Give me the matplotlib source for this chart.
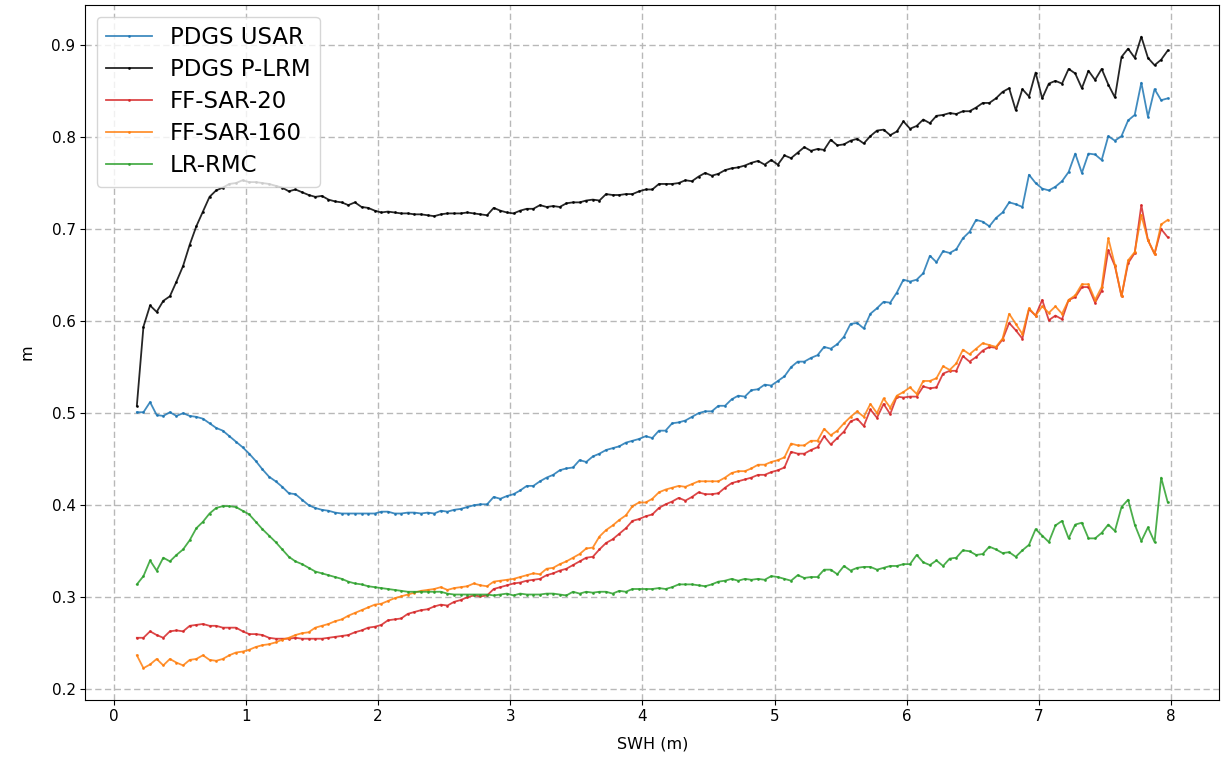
import numpy as np
import matplotlib
matplotlib.use("Agg")
import matplotlib.pyplot as plt

# SWH bin centres (m)
swh = np.arange(0.175, 8.0, 0.05)

pdgs_usar = [
    0.501, 0.501, 0.512, 0.498, 0.497, 0.501, 0.497, 0.500, 0.497, 0.496,
    0.494, 0.489, 0.484, 0.481, 0.475, 0.469, 0.463, 0.456, 0.448, 0.439,
    0.431, 0.426, 0.420, 0.413, 0.412, 0.406, 0.400, 0.397, 0.395, 0.394,
    0.392, 0.391, 0.391, 0.391, 0.391, 0.391, 0.391, 0.393, 0.393, 0.391,
    0.391, 0.392, 0.392, 0.391, 0.392, 0.391, 0.394, 0.393, 0.395, 0.396,
    0.398, 0.400, 0.401, 0.401, 0.409, 0.407, 0.410, 0.412, 0.416, 0.421,
    0.421, 0.426, 0.430, 0.433, 0.438, 0.440, 0.441, 0.449, 0.447, 0.453,
    0.456, 0.460, 0.462, 0.464, 0.468, 0.470, 0.472, 0.475, 0.473, 0.481,
    0.481, 0.489, 0.490, 0.492, 0.496, 0.500, 0.502, 0.502, 0.508, 0.508,
    0.515, 0.519, 0.518, 0.525, 0.526, 0.531, 0.530, 0.535, 0.540, 0.550,
    0.556, 0.556, 0.560, 0.563, 0.572, 0.570, 0.575, 0.583, 0.597, 0.598,
    0.592, 0.608, 0.614, 0.621, 0.620, 0.631, 0.645, 0.643, 0.645, 0.652,
    0.671, 0.664, 0.676, 0.674, 0.678, 0.690, 0.697, 0.710, 0.708, 0.703,
    0.712, 0.718, 0.729, 0.727, 0.724, 0.759, 0.750, 0.744, 0.742, 0.746,
    0.752, 0.762, 0.782, 0.761, 0.782, 0.781, 0.775, 0.801, 0.796, 0.801,
    0.818, 0.824, 0.859, 0.822, 0.852, 0.840, 0.842,
]

pdgs_plrm = [
    0.508, 0.594, 0.617, 0.610, 0.622, 0.627, 0.643, 0.660, 0.683, 0.703,
    0.719, 0.735, 0.742, 0.745, 0.749, 0.750, 0.753, 0.751, 0.751, 0.750,
    0.749, 0.747, 0.745, 0.741, 0.743, 0.740, 0.737, 0.735, 0.736, 0.732,
    0.730, 0.729, 0.726, 0.729, 0.724, 0.723, 0.720, 0.718, 0.719, 0.718,
    0.717, 0.717, 0.716, 0.716, 0.715, 0.714, 0.716, 0.717, 0.717, 0.717,
    0.718, 0.717, 0.716, 0.715, 0.723, 0.720, 0.718, 0.717, 0.720, 0.722,
    0.722, 0.726, 0.724, 0.725, 0.724, 0.728, 0.729, 0.729, 0.731, 0.732,
    0.731, 0.738, 0.737, 0.737, 0.738, 0.738, 0.741, 0.743, 0.743, 0.749,
    0.749, 0.749, 0.750, 0.753, 0.752, 0.757, 0.761, 0.758, 0.760, 0.764,
    0.766, 0.767, 0.769, 0.772, 0.774, 0.770, 0.775, 0.770, 0.780, 0.777,
    0.783, 0.789, 0.785, 0.787, 0.786, 0.797, 0.791, 0.792, 0.796, 0.798,
    0.793, 0.801, 0.807, 0.808, 0.802, 0.806, 0.817, 0.809, 0.812, 0.819,
    0.815, 0.823, 0.824, 0.826, 0.825, 0.828, 0.828, 0.832, 0.837, 0.837,
    0.842, 0.849, 0.853, 0.829, 0.852, 0.844, 0.870, 0.842, 0.858, 0.861,
    0.858, 0.874, 0.869, 0.853, 0.872, 0.862, 0.874, 0.857, 0.843, 0.887,
    0.896, 0.886, 0.909, 0.886, 0.878, 0.884, 0.894,
]

ff_sar_20 = [
    0.256, 0.256, 0.263, 0.259, 0.256, 0.263, 0.264, 0.263, 0.269, 0.270,
    0.271, 0.269, 0.269, 0.267, 0.267, 0.267, 0.263, 0.260, 0.260, 0.259,
    0.256, 0.255, 0.255, 0.255, 0.256, 0.255, 0.255, 0.255, 0.255, 0.256,
    0.257, 0.258, 0.259, 0.262, 0.264, 0.267, 0.268, 0.270, 0.275, 0.276,
    0.277, 0.282, 0.284, 0.286, 0.287, 0.290, 0.292, 0.291, 0.295, 0.297,
    0.300, 0.302, 0.301, 0.302, 0.309, 0.311, 0.313, 0.315, 0.316, 0.318,
    0.319, 0.320, 0.324, 0.326, 0.329, 0.331, 0.335, 0.339, 0.343, 0.344,
    0.352, 0.359, 0.363, 0.369, 0.375, 0.383, 0.385, 0.388, 0.390, 0.397,
    0.401, 0.404, 0.408, 0.405, 0.409, 0.414, 0.412, 0.412, 0.413, 0.419,
    0.424, 0.426, 0.428, 0.430, 0.433, 0.433, 0.436, 0.438, 0.441, 0.458,
    0.456, 0.456, 0.460, 0.463, 0.475, 0.466, 0.473, 0.480, 0.491, 0.494,
    0.486, 0.504, 0.495, 0.510, 0.499, 0.518, 0.517, 0.518, 0.518, 0.529,
    0.527, 0.528, 0.543, 0.546, 0.546, 0.562, 0.556, 0.561, 0.568, 0.572,
    0.571, 0.580, 0.598, 0.590, 0.581, 0.613, 0.606, 0.623, 0.601, 0.606,
    0.602, 0.623, 0.626, 0.637, 0.637, 0.620, 0.633, 0.677, 0.660, 0.627,
    0.663, 0.674, 0.726, 0.688, 0.673, 0.700, 0.691,
]

ff_sar_160 = [
    0.237, 0.223, 0.227, 0.233, 0.226, 0.233, 0.229, 0.226, 0.232, 0.233,
    0.237, 0.232, 0.231, 0.233, 0.237, 0.240, 0.241, 0.243, 0.246, 0.248,
    0.249, 0.251, 0.254, 0.256, 0.259, 0.261, 0.262, 0.267, 0.269, 0.271,
    0.274, 0.276, 0.280, 0.283, 0.286, 0.289, 0.292, 0.293, 0.296, 0.299,
    0.301, 0.303, 0.305, 0.307, 0.308, 0.309, 0.311, 0.308, 0.310, 0.311,
    0.312, 0.315, 0.313, 0.312, 0.317, 0.318, 0.319, 0.320, 0.322, 0.324,
    0.326, 0.325, 0.331, 0.332, 0.336, 0.339, 0.343, 0.347, 0.353, 0.354,
    0.366, 0.373, 0.378, 0.384, 0.389, 0.399, 0.403, 0.403, 0.407, 0.414,
    0.417, 0.419, 0.421, 0.420, 0.423, 0.426, 0.426, 0.426, 0.426, 0.430,
    0.435, 0.437, 0.437, 0.440, 0.444, 0.444, 0.447, 0.449, 0.452, 0.467,
    0.465, 0.465, 0.470, 0.470, 0.483, 0.476, 0.481, 0.489, 0.496, 0.502,
    0.496, 0.510, 0.500, 0.516, 0.506, 0.519, 0.523, 0.528, 0.521, 0.535,
    0.535, 0.538, 0.551, 0.547, 0.554, 0.569, 0.564, 0.570, 0.576, 0.574,
    0.572, 0.581, 0.608, 0.597, 0.586, 0.614, 0.606, 0.616, 0.609, 0.616,
    0.608, 0.623, 0.628, 0.640, 0.640, 0.623, 0.637, 0.690, 0.661, 0.627,
    0.666, 0.675, 0.715, 0.688, 0.673, 0.705, 0.710,
]

lr_rmc = [
    0.314, 0.323, 0.340, 0.329, 0.343, 0.339, 0.346, 0.352, 0.362, 0.375,
    0.382, 0.391, 0.397, 0.399, 0.399, 0.398, 0.394, 0.390, 0.382, 0.374,
    0.367, 0.360, 0.352, 0.344, 0.339, 0.336, 0.332, 0.328, 0.326, 0.324,
    0.322, 0.320, 0.317, 0.315, 0.314, 0.312, 0.311, 0.310, 0.309, 0.308,
    0.307, 0.306, 0.306, 0.306, 0.306, 0.306, 0.306, 0.304, 0.303, 0.303,
    0.303, 0.303, 0.303, 0.303, 0.302, 0.303, 0.304, 0.302, 0.304, 0.303,
    0.303, 0.303, 0.304, 0.304, 0.303, 0.302, 0.306, 0.304, 0.306, 0.305,
    0.306, 0.306, 0.304, 0.307, 0.306, 0.309, 0.309, 0.309, 0.309, 0.310,
    0.309, 0.311, 0.314, 0.314, 0.314, 0.313, 0.312, 0.314, 0.317, 0.318,
    0.320, 0.318, 0.320, 0.319, 0.320, 0.319, 0.323, 0.322, 0.320, 0.318,
    0.324, 0.321, 0.322, 0.322, 0.330, 0.330, 0.325, 0.334, 0.329, 0.332,
    0.333, 0.333, 0.330, 0.332, 0.334, 0.334, 0.336, 0.336, 0.346, 0.338,
    0.335, 0.340, 0.334, 0.342, 0.343, 0.351, 0.350, 0.346, 0.347, 0.355,
    0.352, 0.348, 0.349, 0.344, 0.351, 0.357, 0.374, 0.367, 0.360, 0.378,
    0.383, 0.364, 0.379, 0.381, 0.364, 0.364, 0.370, 0.379, 0.372, 0.398,
    0.406, 0.379, 0.361, 0.376, 0.360, 0.430, 0.403,
]

series = [
    ("PDGS USAR", pdgs_usar, "tab:blue"),
    ("PDGS P-LRM", pdgs_plrm, "black"),
    ("FF-SAR-20", ff_sar_20, "tab:red"),
    ("FF-SAR-160", ff_sar_160, "tab:orange"),
    ("LR-RMC", lr_rmc, "tab:green"),
]

fig = plt.figure(figsize=(12.22, 7.60), dpi=100)
ax = fig.add_axes([0.0698, 0.0793, 0.928, 0.914])

for label, values, color in series:
    ax.plot(swh, values, color=color, marker=".", markersize=2,
            linewidth=1.3, alpha=0.85, label=label)

ax.set_xticks(range(0, 9))
ax.set_yticks([0.2, 0.3, 0.4, 0.5, 0.6, 0.7, 0.8, 0.9])
ax.tick_params(labelsize=10.9)
ax.grid(True, linestyle=(0, (4.5, 2.5)), linewidth=1.0, color="#b8b8b8")
ax.set_xlabel("SWH (m)", fontsize=11.5, labelpad=9)
ax.set_ylabel("m", fontsize=11.5, labelpad=12)
ax.legend(loc="upper left", fontsize=16.5, labelspacing=0.4)

fig.savefig("out.png", dpi=100)
